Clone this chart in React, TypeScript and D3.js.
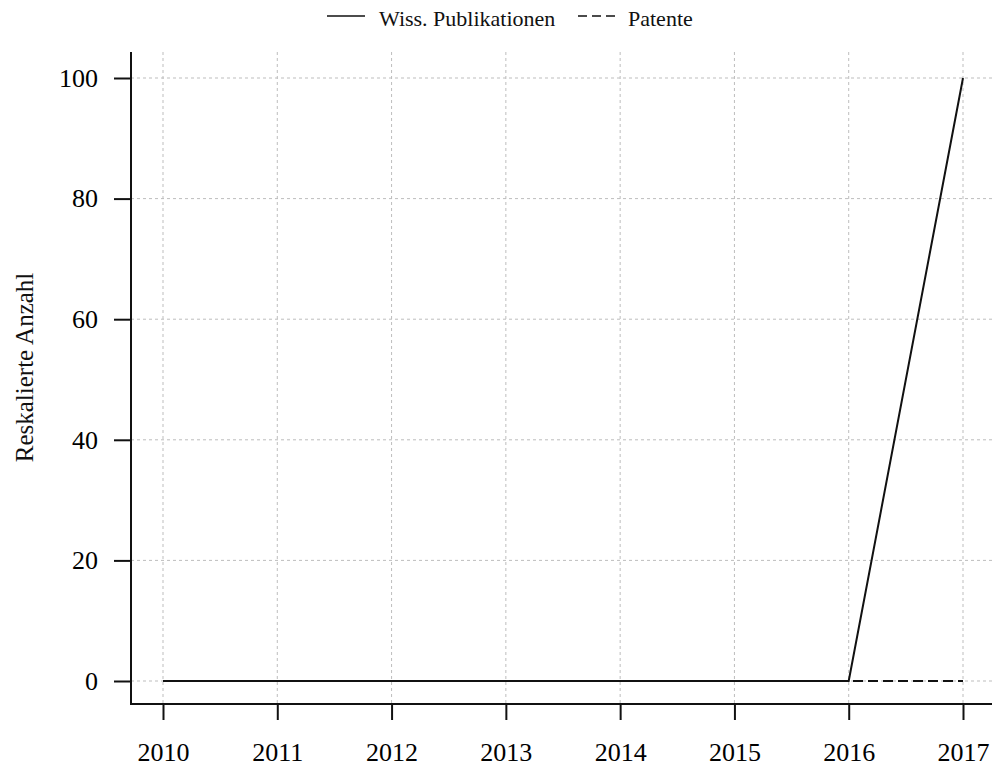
import React, { useEffect, useRef } from 'react';
import * as d3 from 'd3';

const years = [2010, 2011, 2012, 2013, 2014, 2015, 2016, 2017];
const publikationen = [0, 0, 0, 0, 0, 0, 0, 100];
const patente = [0, 0, 0, 0, 0, 0, 0, 0];
const yTicks = [0, 20, 40, 60, 80, 100];
const seriesNames = ['Wiss. Publikationen', 'Patente'];

const W = 992;
const H = 768;
const FONT = '"Liberation Serif", "Times New Roman", serif';

export default function App() {
  const svgRef = useRef<SVGSVGElement>(null);

  useEffect(() => {
    if (!svgRef.current) return;
    const svg = d3.select(svgRef.current);
    svg.selectAll('*').remove();

    const plot = { left: 131, right: W, top: 52, bottom: 704 };

    const x = d3.scaleLinear().domain([2010, 2017]).range([163, 963]);
    const y = d3.scaleLinear().domain([0, 100]).range([681, 78]);

    // grid
    const grid = svg.append('g').attr('stroke', '#bdbdbd').attr('stroke-width', 1).attr('stroke-dasharray', '3,3');
    grid.selectAll('line.v')
      .data(years)
      .join('line')
      .attr('x1', d => x(d)).attr('x2', d => x(d))
      .attr('y1', plot.top).attr('y2', plot.bottom);
    grid.selectAll('line.h')
      .data(yTicks)
      .join('line')
      .attr('x1', plot.left).attr('x2', plot.right)
      .attr('y1', d => y(d)).attr('y2', d => y(d));

    // series
    const line = d3.line<number>()
      .x((_, i) => x(years[i]))
      .y(d => y(d));

    svg.append('path')
      .datum(patente)
      .attr('fill', 'none')
      .attr('stroke', '#111')
      .attr('stroke-width', 2)
      .attr('stroke-dasharray', '10,5')
      .attr('d', line);

    svg.append('path')
      .datum(publikationen)
      .attr('fill', 'none')
      .attr('stroke', '#111')
      .attr('stroke-width', 2)
      .attr('d', line);

    // axes (L-shaped box)
    const yAxis = svg.append('g')
      .attr('transform', `translate(${plot.left},0)`)
      .call(d3.axisLeft(y).tickValues(yTicks).tickSize(17).tickPadding(16).tickFormat(d3.format('d')));
    yAxis.select('.domain').remove();
    yAxis.selectAll('line').attr('stroke', '#111').attr('stroke-width', 2);
    yAxis.selectAll('text')
      .attr('fill', '#000')
      .style('font-family', FONT)
      .style('font-size', '26px');

    const xAxis = svg.append('g')
      .attr('transform', `translate(0,${plot.bottom})`)
      .call(d3.axisBottom(x).tickValues(years).tickSize(16).tickFormat(d3.format('d')));
    xAxis.select('.domain').remove();
    xAxis.selectAll('line').attr('stroke', '#111').attr('stroke-width', 2);
    xAxis.selectAll('text')
      .attr('y', 57)
      .attr('dy', null)
      .attr('fill', '#000')
      .style('font-family', FONT)
      .style('font-size', '26px');

    svg.append('path')
      .attr('d', `M${plot.left},${plot.top}V${plot.bottom}H${plot.right}`)
      .attr('fill', 'none')
      .attr('stroke', '#111')
      .attr('stroke-width', 2);

    // y title
    svg.append('text')
      .attr('transform', `translate(33,${(272 + 463) / 2}) rotate(-90)`)
      .attr('text-anchor', 'middle')
      .attr('fill', '#111')
      .style('font-family', FONT)
      .style('font-size', '25px')
      .text('Reskalierte Anzahl');

    // legend
    const legend = svg.append('g').style('font-family', FONT).style('font-size', '22px');
    const items = [
      { name: seriesNames[0], x0: 327, x1: 365, tx: 379, dash: null },
      { name: seriesNames[1], x0: 578, x1: 615, tx: 628, dash: '9,5' }
    ];
    items.forEach(it => {
      legend.append('line')
        .attr('x1', it.x0).attr('x2', it.x1)
        .attr('y1', 16).attr('y2', 16)
        .attr('stroke', '#111')
        .attr('stroke-width', 1.5)
        .attr('stroke-dasharray', it.dash);
      legend.append('text')
        .attr('x', it.tx)
        .attr('y', 26)
        .attr('fill', '#111')
        .text(it.name);
    });
  }, []);

  return (
    <div style={{ position: 'absolute', left: 0, top: 0 }}>
      <svg ref={svgRef} width={W} height={H} style={{ display: 'block', background: '#fff' }} />
    </div>
  );
}
